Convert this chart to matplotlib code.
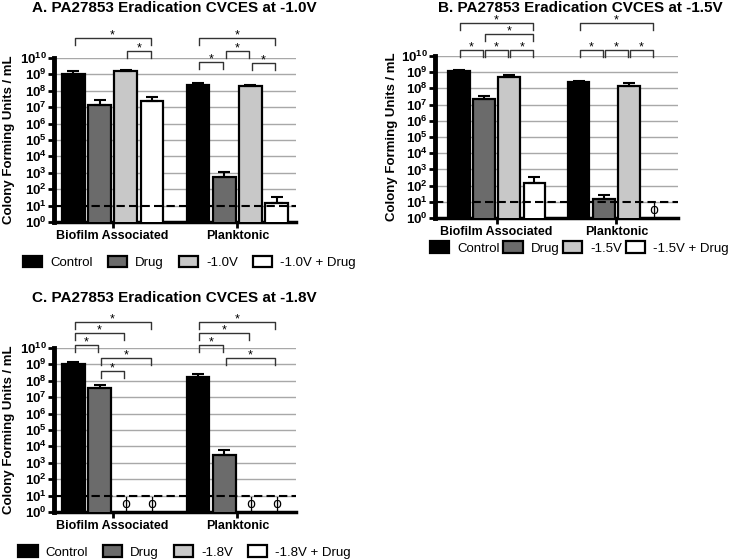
import numpy as np
import matplotlib
matplotlib.use("Agg")
import matplotlib.pyplot as plt
from matplotlib.patches import Patch

plt.rcParams['font.family'] = ['Liberation Sans', 'DejaVu Sans']
plt.rcParams['mathtext.fontset'] = 'custom'
plt.rcParams['mathtext.rm'] = 'Liberation Sans'
plt.rcParams['mathtext.bf'] = 'Liberation Sans:bold'

# --- data (CFU/mL; 0 = none recovered, drawn as phi) ---
groups = ["Biofilm Associated", "Planktonic"]
colors = ["#000000", "#6b6b6b", "#c8c8c8", "#ffffff"]

a_labels = ["Control", "Drug", "-1.0V", "-1.0V + Drug"]
a_biofilm = [1.1e9, 1.3e7, 1.65e9, 2.4e7]
a_biofilm_top = [1.7e9, 2.8e7, 1.9e9, 4.3e7]
a_plank = [2.2e8, 5.7e2, 2.1e8, 15]
a_plank_top = [2.9e8, 1.15e3, 2.4e8, 32]

b_labels = ["Control", "Drug", "-1.5V", "-1.5V + Drug"]
b_biofilm = [1.15e9, 2.1e7, 5.4e8, 150]
b_biofilm_top = [1.45e9, 3.3e7, 7.1e8, 330]
b_plank = [2.4e8, 15, 1.5e8, 0]
b_plank_top = [2.9e8, 28, 2.3e8, 0]

c_labels = ["Control", "Drug", "-1.8V", "-1.8V + Drug"]
c_biofilm = [1.0e9, 3.5e7, 0, 0]
c_biofilm_top = [1.35e9, 5.2e7, 0, 0]
c_plank = [1.8e8, 2.8e3, 0, 0]
c_plank_top = [2.6e8, 6.0e3, 0, 0]

detection_limit = 10

# significance comparisons: (group, bar i, bar j, bracket height in log10)
a_sig = [(0, 0, 3, 11.2), (0, 2, 3, 10.43), (1, 0, 3, 11.2),
         (1, 0, 1, 9.75), (1, 1, 2, 10.43), (1, 2, 3, 9.7)]
b_sig = [(0, 0, 3, 12.05), (0, 1, 3, 11.33), (0, 0, 1, 10.37), (0, 1, 2, 10.37),
         (0, 2, 3, 10.37), (1, 0, 3, 12.05), (1, 0, 1, 10.37), (1, 1, 2, 10.37),
         (1, 2, 3, 10.37)]
c_sig = [(0, 0, 3, 11.57), (0, 0, 2, 10.90), (0, 0, 1, 10.18), (0, 1, 3, 9.39),
         (0, 1, 2, 8.60), (1, 0, 3, 11.57), (1, 0, 2, 10.90), (1, 0, 1, 10.18),
         (1, 1, 3, 9.39)]

offsets = np.array([-0.315, -0.105, 0.105, 0.315])
width = 0.18


def panel(ax, labels, vals, tops, sig, xlim, ylab_x, leg_xy, colsp):
    for g, (v, t) in enumerate(zip(vals, tops)):
        for k in range(4):
            x = g + offsets[k]
            if v[k] > 0:
                ax.bar(x, v[k], width, color=colors[k], edgecolor="black",
                       lw=1.6, zorder=3)
                ax.errorbar(x, v[k], yerr=[[0], [t[k] - v[k]]], color="black",
                            lw=1.5, capsize=4.5, capthick=1.5, zorder=4)
            else:
                ax.text(x, 10 ** 0.47, "\u03d5", family="DejaVu Sans",
                        fontsize=10, ha="center", va="center", zorder=5)
    ax.axhline(detection_limit, color="black", lw=1.5, ls=(0, (4, 2)), zorder=6)
    for g, i, j, lvl in sig:
        x1, x2 = g + offsets[i] + 0.01, g + offsets[j] - 0.01
        lo = 10 ** (lvl - 0.42)
        ax.plot([x1, x1, x2, x2], [lo, 10 ** lvl, 10 ** lvl, lo], color="#333333",
                lw=1.0, clip_on=False)
        ax.text((x1 + x2) / 2, 10 ** (lvl + 0.17), "*", ha="center", va="center",
                fontsize=9)

    ax.set_yscale("log")
    ax.set_ylim(1, 1e10)
    ax.set_xlim(*xlim)
    dec = np.arange(0, 11)
    ax.set_yticks(10.0 ** dec)
    ax.set_yticklabels([r"$\mathbf{10^{%d}}$" % d for d in dec], fontsize=9.5)
    ax.yaxis.set_minor_locator(matplotlib.ticker.NullLocator())
    ax.grid(axis="y", color="#a8a8a8", lw=1.0, zorder=0)
    ax.set_xticks([0, 1])
    ax.set_xticklabels(groups, fontsize=9, fontweight="bold")
    for s in ["top", "right"]:
        ax.spines[s].set_visible(False)
    ax.spines["left"].set_linewidth(3.5)
    ax.spines["bottom"].set_linewidth(2.5)
    ax.tick_params(axis="y", width=2, length=4, pad=1)
    ax.tick_params(axis="x", width=2, length=4, pad=2)
    ax.set_ylabel("Colony Forming Units / mL", fontsize=9.5, fontweight="bold")
    ax.yaxis.set_label_coords(ylab_x, 0.5)

    handles = [Patch(facecolor=c, edgecolor="black", lw=1.6) for c in colors]
    ax.legend(handles, labels, ncol=4, loc="center", bbox_to_anchor=leg_xy,
              frameon=False, fontsize=9.5, handlelength=1.45, handleheight=0.95,
              handletextpad=0.6, columnspacing=colsp, borderaxespad=0)


fig = plt.figure(figsize=(7.33, 5.60), dpi=100)
axA = fig.add_axes([54 / 733, 1 - 222 / 560, 242 / 733, 164 / 560])
axB = fig.add_axes([435 / 733, 1 - 218 / 560, 243 / 733, 162 / 560])
axC = fig.add_axes([54 / 733, 1 - 512 / 560, 242 / 733, 164 / 560])

panel(axA, a_labels, [a_biofilm, a_plank], [a_biofilm_top, a_plank_top],
      a_sig, (-0.47, 1.47), -0.161, (0.56, -0.245), 1.15)
panel(axB, b_labels, [b_biofilm, b_plank], [b_biofilm_top, b_plank_top],
      b_sig, (-0.514, 1.514), -0.152, (0.594, -0.185), 0.3)
panel(axC, c_labels, [c_biofilm, c_plank], [c_biofilm_top, c_plank_top],
      c_sig, (-0.47, 1.47), -0.161, (0.54, -0.244), 1.15)

fig.text(174 / 733, 1 - 8.5 / 560, "A. PA27853 Eradication CVCES at -1.0V",
         ha="center", va="center", fontsize=11, fontweight="bold")
fig.text(580 / 733, 1 - 8 / 560, "B. PA27853 Eradication CVCES at -1.5V",
         ha="center", va="center", fontsize=11, fontweight="bold")
fig.text(174 / 733, 1 - 298 / 560, "C. PA27853 Eradication CVCES at -1.8V",
         ha="center", va="center", fontsize=11, fontweight="bold")

fig.savefig("out.png", dpi=100)
